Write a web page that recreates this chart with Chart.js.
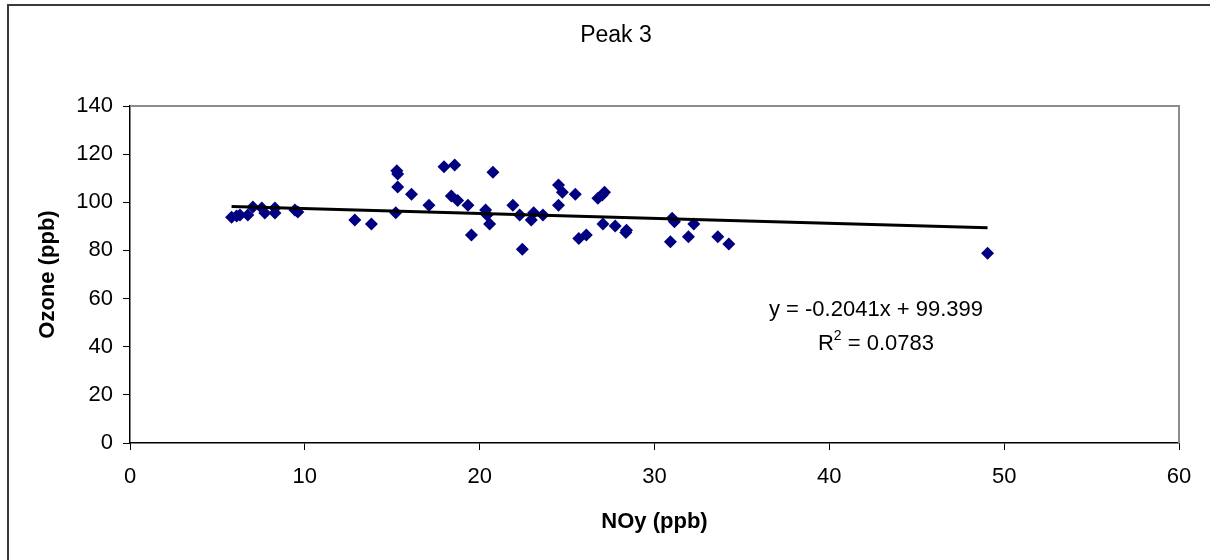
<!DOCTYPE html>
<html>

<head>
    <title>Peak 3</title>
    <meta charset="UTF-8">
    <script src="https://cdn.jsdelivr.net/npm/chart.js"></script>
    <style>
        body { margin: 0; background: #fff; }
        #chartContainer { width: 1210px; height: 560px; }
    </style>
</head>

<body>
    <div id="chartContainer">
        <canvas id="scatterChart" width="1210" height="560"></canvas>
    </div>

    <script>
        // NOy (ppb) and Ozone (ppb)
        var noy = [5.81, 6.10, 6.29, 6.74, 7.03, 7.54, 7.71, 8.29, 8.29, 9.43, 9.60,
            12.86, 13.81, 15.20, 15.26, 15.31, 15.31, 16.10, 17.10, 17.96, 18.57, 18.38, 18.74,
            19.33, 19.53, 20.34, 20.42, 20.57, 20.76, 21.90, 22.29, 22.44, 22.95, 23.09, 23.62,
            24.51, 24.73, 24.51, 25.47, 25.67, 26.10, 26.76, 27.01, 27.14, 27.05, 27.75, 28.36, 28.40,
            30.91, 31.01, 31.14, 31.94, 32.25, 33.62, 34.25, 49.05];
        var ozone = [93.8, 94.3, 94.7, 94.7, 98.0, 97.6, 95.6, 97.6, 95.6, 96.8, 96.0,
            92.6, 91.0, 95.7, 113.1, 111.8, 106.4, 103.3, 98.8, 114.8, 115.5, 102.6, 100.7,
            98.75, 86.4, 96.8, 94.7, 91.0, 112.5, 98.75, 94.7, 80.5, 92.6, 95.7, 94.7,
            107.2, 104.2, 98.75, 103.3, 85.0, 86.4, 101.7, 103.0, 104.2, 91.0, 90.2, 87.5, 88.4,
            83.6, 93.4, 91.9, 85.7, 91.0, 85.7, 82.7, 78.8];

        // linear trend line end points
        var trendX = [5.81, 49.05];
        var trendY = [98.21, 89.39];

        var xTicks = [0, 10, 20, 30, 40, 50, 60];
        var yTicks = [0, 20, 40, 60, 80, 100, 120, 140];

        var chartTitle = 'Peak 3';
        var trendLabel = ['y = -0.2041x + 99.399', 'R', '2', ' = 0.0783'];

        var points = noy.map(function (x, i) { return { x: x, y: ozone[i] }; });
        var trend = trendX.map(function (x, i) { return { x: x, y: trendY[i] }; });

        var FONT = '"Liberation Sans", Arial, sans-serif';

        // outer frame, title, grey plot border and the equation text
        var decor = {
            id: 'decor',
            beforeDraw: function (chart) {
                var ctx = chart.ctx;
                ctx.save();
                ctx.fillStyle = '#fff';
                ctx.fillRect(0, 0, chart.width, chart.height);
                ctx.strokeStyle = '#3a3a3a';
                ctx.lineWidth = 2;
                ctx.strokeRect(8, 5, 1300, 700);

                ctx.fillStyle = '#000';
                ctx.textAlign = 'center';
                ctx.textBaseline = 'middle';
                ctx.font = '23px ' + FONT;
                ctx.fillText(chartTitle, 616, 36);
                ctx.restore();
            },
            afterDatasetsDraw: function (chart) {
                var ctx = chart.ctx;
                var a = chart.chartArea;
                ctx.save();
                ctx.strokeStyle = '#8c8c8c';
                ctx.lineWidth = 2;
                ctx.beginPath();
                ctx.moveTo(a.left, a.top);
                ctx.lineTo(a.right, a.top);
                ctx.lineTo(a.right, a.bottom);
                ctx.stroke();

                ctx.fillStyle = '#000';
                ctx.textBaseline = 'middle';
                ctx.textAlign = 'center';
                ctx.font = '22px ' + FONT;
                ctx.fillText(trendLabel[0], 876, 310);

                // R² line with superscript
                var w1 = ctx.measureText(trendLabel[1]).width;
                var w3 = ctx.measureText(trendLabel[3]).width;
                ctx.font = '14px ' + FONT;
                var w2 = ctx.measureText(trendLabel[2]).width;
                var x0 = 876 - (w1 + w2 + w3) / 2;
                ctx.textAlign = 'left';
                ctx.font = '22px ' + FONT;
                ctx.fillText(trendLabel[1], x0, 344);
                ctx.font = '14px ' + FONT;
                ctx.fillText(trendLabel[2], x0 + w1, 336);
                ctx.font = '22px ' + FONT;
                ctx.fillText(trendLabel[3], x0 + w1 + w2, 344);
                ctx.restore();
            }
        };

        var ctx = document.getElementById('scatterChart').getContext('2d');
        var chart = new Chart(ctx, {
            type: 'scatter',
            data: {
                datasets: [{
                    label: 'Ozone',
                    data: points,
                    pointStyle: 'rectRot',
                    pointRadius: 6.5,
                    pointHoverRadius: 6.5,
                    backgroundColor: '#000080',
                    borderColor: '#000080',
                    borderWidth: 0,
                    order: 1
                }, {
                    label: 'Trend',
                    type: 'line',
                    data: trend,
                    borderColor: '#000',
                    borderWidth: 3,
                    pointRadius: 0,
                    fill: false,
                    order: 0
                }]
            },
            options: {
                responsive: false,
                animation: false,
                layout: { padding: { left: 0, right: 31, top: 106, bottom: 0 } },
                plugins: {
                    legend: { display: false },
                    tooltip: { enabled: false },
                    title: { display: false }
                },
                scales: {
                    x: {
                        type: 'linear',
                        min: 0,
                        max: 60,
                        afterBuildTicks: function (scale) {
                            scale.ticks = xTicks.map(function (v) { return { value: v }; });
                        },
                        afterFit: function (scale) { scale.height = 117; },
                        grid: {
                            drawOnChartArea: false,
                            drawTicks: true,
                            tickLength: 7,
                            color: '#000',
                            tickColor: '#000'
                        },
                        border: { display: true, color: '#000', width: 1.5 },
                        ticks: {
                            color: '#000',
                            padding: 14,
                            maxRotation: 0,
                            font: { family: FONT, size: 22 }
                        },
                        title: {
                            display: true,
                            text: 'NOy (ppb)',
                            color: '#000',
                            font: { family: FONT, size: 22, weight: 'bold' },
                            padding: { top: 0, bottom: 25 }
                        }
                    },
                    y: {
                        type: 'linear',
                        min: 0,
                        max: 140,
                        afterBuildTicks: function (scale) {
                            scale.ticks = yTicks.map(function (v) { return { value: v }; });
                        },
                        afterFit: function (scale) { scale.width = 130; },
                        grid: {
                            drawOnChartArea: false,
                            drawTicks: true,
                            tickLength: 7,
                            color: '#000',
                            tickColor: '#000'
                        },
                        border: { display: true, color: '#000', width: 1.5 },
                        ticks: {
                            color: '#000',
                            padding: 10,
                            font: { family: FONT, size: 22 }
                        },
                        title: {
                            display: true,
                            text: 'Ozone (ppb)',
                            color: '#000',
                            font: { family: FONT, size: 22, weight: 'bold' },
                            padding: { top: 35, bottom: 0 }
                        }
                    }
                }
            },
            plugins: [decor]
        });
    </script>
</body>

</html>
